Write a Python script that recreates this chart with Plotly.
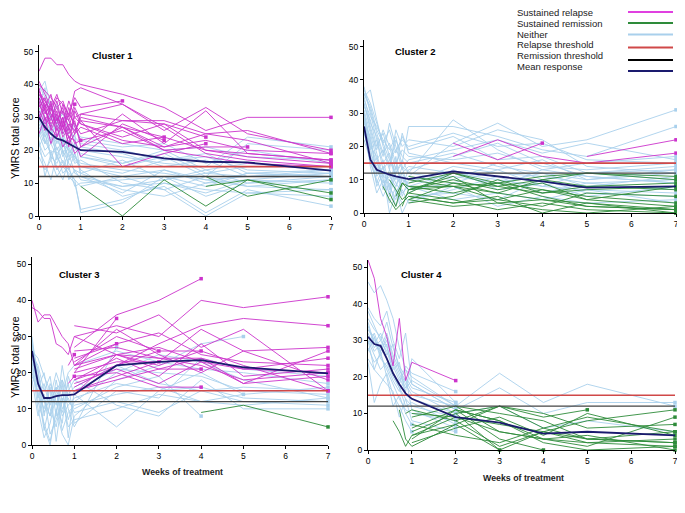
import plotly.graph_objects as go

N = None
# time grid: daily in week 0-1, then weekly
WEEKS = [0, 1/7, 2/7, 3/7, 4/7, 5/7, 6/7, 1, 2, 3, 4, 5, 7]
X_TICKS = [0, 1, 2, 3, 4, 5, 6, 7]
Y_TICKS = [0, 10, 20, 30, 40, 50]
RELAPSE_THRESHOLD = 15
REMISSION_THRESHOLD = 12

CLUSTER_NAMES = ["Cluster 1", "Cluster 2", "Cluster 3", "Cluster 4"]
LEGEND_LABELS = ["Sustained relapse", "Sustained remission", "Neither",
                 "Relapse threshold", "Remission threshold", "Mean response"]

# ---------------- Cluster 1 ----------------
c1_mean = [30, 27, 25, 23.5, 23, 22, 21, 20, 19.5, 17.5, 16.5, 16.3, 13.8]
c1_relapse = [
    [44, 48, 48, 46, 46, 43, 41, 40, 37, 33, 26, 30, 30],
    [40, 38, 36, 33, 35, 30, 38, 39, 34, 26, 33, 25, 20],
    [38, 35, 32, 36, 34, 31, 36, 33, 35, N, N, N, N],
    [37, 34, 30, 33, 28, 35, 30, 31, 29, 28, 24, N, N],
    [36, 31, 34, 29, 32, 27, 33, 29, 27, 21, 25, 26, 19],
    [41, 37, 33, 37, 31, 29, 34, N, N, N, N, N, N],
    [39, 32, 28, 31, 26, 33, 27, 23, 26, 20, 18, 16, 15],
    [35, 29, 33, 27, 30, 25, 29, 21, 31, 22, 32, 19, 17],
    [33, 36, 31, 28, 34, 29, 25, 27, 22, 24, N, N, N],
    [34, 30, 27, 32, 25, 28, 26, 29, 15, 19, 22, N, N],
    [32, 28, 30, 26, 29, 24, 23, 18, 28, 23, N, N, N],
    [30, 34, 26, 30, 24, 27, 22, 23, N, N, N, N, N],
    [38, 33, 37, 30, 27, 31, 28, 25, 29, 29, 25, 23, 16],
    [36, 32, 29, 35, 27, 24, 26, 30, 27, 20, 21, 21, N],
    [29, 33, 27, 24, 28, 22, 25, 31, 34, 27, 19, 17, 15],
    [37, 35, 31, 29, 33, 26, 30, 28, 24, 28, 20, 18, 16],
    [25, 30, 22, 27, 21, 24, 19, 21, 27, 24, 20, 19, 17],
    [31, 26, 35, 24, 30, 21, 32, 28, 23, 21, 23, 20, 19],
]
c1_remission = [
    [N, N, N, N, N, N, N, 9, 0, 11, 3, 11, 7],
    [N, N, N, N, N, N, N, N, N, N, 12, 6, 11],
    [N, N, N, N, N, N, N, N, N, N, 9, 11, 5],
]
c1_neither = [
    [35, 30, 25, 28, 22, 20, 18, 15, 12, 14, 10, 13, 12],
    [33, 28, 31, 24, 26, 19, 22, 20, 18, 16, 15, 24, 21],
    [30, 26, 22, 25, 18, 21, 16, 17, 10, 8, 12, 9, 8],
    [28, 24, 27, 20, 23, 17, 19, 14, 6, 9, 1, 8, 3],
    [38, 41, 33, 29, 31, 26, 24, 22, 20, 17, 18, 14, 13],
    [25, 20, 22, 18, 15, 19, 13, 12, 9, 11, 14, 10, 11],
    [40, 36, 30, 34, 27, 25, 28, 23, 21, 22, 16, 20, 16],
    [22, 18, 20, 14, 17, 12, 10, 2, 5, 10, 8, 7, 6],
    [27, 23, 19, 21, 16, 14, 11, 1, 4, 12, 9, 13, 14],
    [32, 29, 26, 22, 24, 20, 18, 16, 14, 13, 11, 12, 13],
    [20, 16, 11, 19, 13, 15, 9, 10, 11, 12, 6, 10, 12],
    [36, 32, 28, 26, 30, 24, 21, 19, 16, 19, 13, 15, 15],
    [24, 30, 17, 23, 20, 16, 14, 13, 8, 6, 10, 11, 10],
    [29, 25, 33, 27, 22, 18, 20, 21, 19, 15, 17, 12, 14],
    [34, 39, 29, 31, 25, 27, 23, 18, 15, 18, 12, 22, 20],
    [18, 14, 17, 12, 15, 13, 11, 9, 12, 8, 0, 7, 8],
    [26, 22, 24, 19, 21, 23, 17, 15, 13, 17, 19, 13, 12],
    [31, 27, 23, 30, 19, 22, 25, 12, 7, 14, 11, 9, 11],
    [37, 33, 35, 28, 32, 29, 26, 24, 22, 20, 21, 18, 17],
    [21, 25, 18, 16, 20, 11, 14, 11, 9, 10, 7, 11, 13],
    [23, 12, 19, 15, 11, 17, 22, 18, 16, 20, 14, 16, 14],
    [32, 22, 28, 17, 24, 14, 19, 13, 17, 11, 13, 12, 12],
]

# ---------------- Cluster 2 ----------------
c2_mean = [26, 16, 13, 12.2, 11.5, 11, 10.5, 10.2, 12.5, 11, 9.5, 7.6, 8]
c2_relapse = [
    [N, N, N, N, N, N, N, N, 21, 16, 21, N, N],
    [N, N, N, N, N, N, N, N, 17, 22, 17, 15, 18],
    [N, N, N, N, N, N, N, N, N, N, N, 17, 22],
]
c2_remission = [
    [N, N, N, N, N, N, N, 11, 9, 8, 10, 8, 9],
    [N, N, N, N, N, N, N, 10, 8, 4, 7, 5, 3],
    [N, N, N, N, N, N, N, 7, 10, 7, 9, 4, 8],
    [N, N, N, N, N, N, N, 5, 3, 5, 0, 3, 0],
    [N, N, N, N, N, N, N, 4, 9, 6, 10, 12, 11],
    [N, N, N, N, N, N, N, 3, 5, 10, 6, 8, 7],
    [N, N, N, N, 6, 2, 9, 8, 8, 6, 4, 2, 1],
    [N, N, N, N, 10, 7, 4, 6, 12, 9, 11, 12, 10],
    [N, N, N, N, N, 5, 9, 7, 8, 9, 7, 4, 2],
    [N, N, N, N, N, N, N, 6, 4, 1, 3, 1, 0],
    [N, N, N, N, N, N, N, 9, 12, 8, 6, 7, 8],
    [N, N, N, 8, 4, 1, 3, 5, 3, 4, 2, 6, 5],
    [N, N, N, N, N, N, N, 8, 6, 9, 5, 2, 1],
    [N, N, N, N, N, N, N, 4, 2, 3, 1, 0, 2],
    [N, N, N, N, N, N, 2, 7, 11, 3, 4, 3, 1],
]
c2_neither = [
    [38, 30, 22, 15, 18, 10, 12, 8, 12, 10, 8, 7, 6],
    [35, 37, 28, 20, 14, 22, 17, 15, 18, 14, 12, 10, 12],
    [33, 25, 18, 10, 6, 14, 9, 11, 21, 27, 20, 22, 31],
    [30, 22, 12, 16, 8, 4, 11, 7, 9, 13, 8, 12, 13],
    [32, 28, 20, 24, 17, 12, 15, 26, 26, 23, 19, 17, 26],
    [28, 18, 14, 8, 12, 6, 3, 5, 6, 4, 10, 6, 5],
    [36, 31, 24, 18, 21, 15, 19, 17, 16, 18, 14, 13, 15],
    [26, 20, 8, 12, 0, 6, 10, 9, 14, 12, 11, 9, 10],
    [34, 29, 26, 22, 19, 23, 14, 12, 28, 19, 13, 15, 17],
    [31, 24, 16, 19, 13, 25, 20, 22, 20, 25, 22, 14, 12],
    [25, 15, 10, 5, 9, 2, 7, 3, 8, 2, 5, 3, 4],
    [37, 33, 27, 21, 25, 18, 23, 19, 23, 16, 17, 12, 14],
    [29, 19, 22, 13, 16, 11, 8, 13, 17, 21, 15, 11, 9],
    [27, 23, 11, 14, 7, 17, 5, 10, 11, 9, 12, 8, 11],
    [24, 17, 13, 9, 11, 8, 14, 6, 13, 7, 9, 5, 8],
    [33, 26, 19, 25, 20, 13, 24, 18, 15, 13, 16, 10, 13],
    [30, 21, 15, 11, 10, 7, 0, 4, 7, 11, 6, 9, 7],
    [22, 16, 9, 14, 5, 12, 16, 12, 10, 15, 10, 12, 10],
    [35, 27, 23, 17, 27, 20, 13, 16, 19, 22, 18, 21, 16],
    [28, 20, 17, 7, 13, 9, 6, 8, 4, 6, 4, 7, 3],
    [36, 32, 25, 21, 16, 19, 22, 20, 24, 20, 21, 16, 15],
    [26, 14, 6, 10, 3, 8, 12, 14, 12, 8, 13, 11, 9],
]

# ---------------- Cluster 3 ----------------
c3_mean = [26, 17, 13, 13, 13.5, 13.8, 13.8, 14, 22, 23, 23.5, 21.5, 19.8]
c3_relapse = [
    [N, N, N, N, N, N, N, 27, 36, 40, 46, N, N],
    [N, N, N, N, N, N, N, 30, 33, 30, 40, 38, 41],
    [N, N, N, N, N, N, N, 33, 31, 36, 27, 32, 15],
    [N, N, N, N, N, N, 22, 25, N, N, N, N, N],
    [N, N, N, N, N, N, 17, 19, N, N, N, N, N],
    [N, N, N, N, N, N, N, 20, 35, N, N, N, N],
    [N, N, N, N, N, N, N, 22, 28, N, N, N, N],
    [N, N, N, N, N, N, N, 18, 22, 28, 33, 35, 33],
    [N, N, N, N, N, N, N, 15, 19, 23, 32, 26, 27],
    [N, N, N, N, N, N, N, 14, 25, 27, 23, 17, 26],
    [N, N, N, N, N, N, N, 23, 30, 26, 26, N, N],
    [N, N, N, N, N, N, N, 16, 22, 26, N, N, N],
    [N, N, N, N, N, N, N, 20, 23, 23, N, N, N],
    [N, N, N, N, N, N, N, 17, 21, 17, 23, 21, 24],
    [N, N, N, N, N, N, N, 21, 25, 21, 21, N, N],
    [N, N, N, N, N, N, N, 19, 20, 16, 16, N, N],
    [N, N, N, N, N, N, N, 24, 28, 31, 25, 23, 22],
    [N, N, N, N, N, N, N, 18, 24, 19, 28, 19, 21],
    [N, N, N, N, N, N, N, 26, 27, 24, 22, 18, 20],
    [N, N, N, N, N, N, N, 15, 18, 21, 24, 17, 19],
    [N, N, N, N, N, N, N, 22, 32, 25, 20, 26, 18],
    [40, 34, 36, 36, 33, 30, 28, 22, 25, 24, 24, 21, 20],
    [38, 37, 35, 35, 28, 27, 25, 30, 25, 22, 26, 22, 15],
]
c3_remission = [
    [N, N, N, N, N, N, N, N, N, N, 9, 11, 5],
]
c3_neither = [
    [28, 20, 12, 8, 15, 18, 10, 5, 27, N, N, N, N],
    [30, 18, 5, 0, 10, 3, 0, 8, 18, 22, 28, 30, N],
    [25, 22, 15, 19, 8, 22, 12, 10, 16, 19, 8, N, N],
    [20, 14, 10, 17, 12, 6, 19, 14, 5, 15, 20, 14, N],
    [27, 17, 9, 13, 20, 15, 7, 12, 20, 25, 23, 18, 13],
    [22, 10, 2, 6, 14, 9, 15, 18, 11, 8, 18, 10, 10],
    [26, 24, 19, 15, 11, 18, 14, 16, 22, 17, 15, 16, 15],
    [18, 8, 14, 3, 7, 12, 17, 6, 15, 13, 24, 21, 19],
    [24, 16, 20, 11, 16, 4, 9, 11, 14, 16, 12, 14, 16],
    [29, 12, 6, 1, 9, 17, 2, 15, 21, 20, 19, 15, 14],
    [21, 19, 13, 8, 18, 10, 13, 9, 12, 9, 15, 12, 11],
    [23, 13, 17, 10, 5, 14, 20, 22, 26, 23, 21, 20, 17],
    [19, 15, 4, 12, 16, 8, 11, 13, 17, 15, 16, 13, 12],
    [26, 21, 8, 16, 1, 13, 5, 7, 10, 14, 12, 11, 13],
]

# ---------------- Cluster 4 ----------------
c4_mean = [31, 29, 28.5, 25, 21, 18, 15.5, 14, 9, 7.5, 4.5, 5, 4]
c4_relapse = [
    [52, 47, 36, 31, 23, 36, 19, 24, 19, N, N, N, N],
]
c4_remission = [
    [N, N, N, N, 8, 5, 1, 4, 9, 5, 3, 2, 1],
    [N, N, N, N, N, 11, 3, 1, 7, 0, N, N, N],
    [N, N, N, N, N, N, 10, 11, 8, 12, 9, 11, N],
    [N, N, N, N, N, N, N, 9, 12, 10, 8, 3, 5],
    [N, N, N, N, N, N, N, 6, 11, 3, 0, N, N],
    [N, N, N, N, N, N, N, 4, 7, 12, 10, 6, 7],
    [N, N, N, N, N, N, N, 3, 11, 8, 3, 1, 9],
    [N, N, N, N, N, N, N, 5, 10, 0, 5, 8, 11],
    [N, N, N, N, N, N, N, 10, 9, 7, 5, 2, 3],
    [N, N, N, N, N, N, N, 2, 6, 9, 4, 10, 4],
    [N, N, N, N, N, N, N, 7, 4, 2, 6, 3, 2],
    [N, N, N, N, N, N, N, N, 11, 8, 2, 0, 1],
    [N, N, N, N, N, N, N, N, 10, 12, 6, 9, 5],
    [N, N, N, N, N, N, N, N, 12, 5, 3, 4, 0],
    [N, N, N, N, N, N, N, N, 8, 1, 5, 3, 2],
]
c4_neither = [
    [46, 43, 45, 41, 36, 28, 22, 20, 12, 21, 13, 18, 12],
    [39, 36, 34, 38, 30, 25, 32, 18, 11, 17, 10, 13, 13],
    [33, 30, 28, 32, 26, 22, 19, 16, 10, N, N, N, N],
    [31, 27, 29, 25, 21, 17, 14, 12, 9, N, N, N, N],
    [29, 32, 27, 30, 24, 20, 16, 25, 13, N, N, N, N],
    [36, 33, 31, 26, 29, 22, 18, 15, 12, N, N, N, N],
    [28, 24, 26, 22, 18, 14, 11, 10, 8, N, N, N, N],
    [34, 29, 32, 28, 23, 19, 22, 18, 11, N, N, N, N],
    [30, 26, 22, 24, 20, 17, 12, 13, 7, N, N, N, N],
    [27, 31, 25, 23, 19, 16, 20, 11, 6, N, N, N, N],
    [32, 28, 30, 27, 22, 24, 15, 14, 10, 12, 6, 8, 5],
    [25, 22, 20, 18, 16, 9, 14, 8, 5, N, N, N, N],
    [35, 29, 27, 31, 25, 21, 17, 19, 12, N, N, N, N],
    [24, 13, 18, 21, 15, 12, 8, 5, N, N, N, N, N],
    [38, 34, 30, 35, 28, 23, 20, 17, 13, N, N, N, N],
    [30, 22, 27, 20, 12, 15, 10, 7, N, N, N, N, N],
    [33, 31, 26, 29, 21, 18, 23, 21, 16, N, N, N, N],
]

CLUSTERS = [
    (c1_neither, c1_remission, c1_relapse, c1_mean),
    (c2_neither, c2_remission, c2_relapse, c2_mean),
    (c3_neither, c3_remission, c3_relapse, c3_mean),
    (c4_neither, c4_remission, c4_relapse, c4_mean),
]

# ---------------- styling ----------------
COL_RELAPSE = "#CC33CC"
COL_REMISSION = "#2E8B3A"
COL_NEITHER = "#A9D0EC"
COL_REL_T = "#D04848"
COL_REM_T = "#444444"
COL_MEAN = "#1A1A6E"
LEG_COLORS = ["#E040E0", "#2E8B3A", "#A9D0EC", "#D04848", "#000000", "#1A1A6E"]

PAGE_W, PAGE_H = 685, 513
OFF = 8  # default page body margin (figure starts at page x=8, y=8)
W, H = PAGE_W - OFF, PAGE_H - OFF


def px_x(px):
    return (px - OFF) / W


def px_y(py):
    return 1 - (py - OFF) / H


# panel pixel boxes in page coords: left, right, top, bottom
PANELS = [(39, 331, 45, 216), (364, 676, 40, 213), (32, 328, 257, 445), (368, 675, 260, 450)]


def build(lines):
    xs, ys, mx, my = [], [], [], []
    for ln in lines:
        pts = [(WEEKS[i], v) for i, v in enumerate(ln) if v is not None]
        for x, y in pts:
            xs.append(x)
            ys.append(y)
        xs.append(None)
        ys.append(None)
        if pts and pts[-1][0] >= 0.8:
            mx.append(pts[-1][0])
            my.append(pts[-1][1])
    return xs, ys, mx, my


FONT = "Liberation Sans, Arial"
fig = go.Figure()
layout_axes = {}
for k, (neither, remis, relapse, mean) in enumerate(CLUSTERS):
    n = k + 1
    xa = "x" if n == 1 else f"x{n}"
    ya = "y" if n == 1 else f"y{n}"
    for lines, col, w in [(neither, COL_NEITHER, 0.9), (remis, COL_REMISSION, 0.9), (relapse, COL_RELAPSE, 0.9)]:
        xs, ys, mx, my = build(lines)
        fig.add_trace(go.Scatter(x=xs, y=ys, mode="lines", line=dict(color=col, width=w),
                                 xaxis=xa, yaxis=ya, showlegend=False, hoverinfo="skip"))
        fig.add_trace(go.Scatter(x=mx, y=my, mode="markers",
                                 marker=dict(color=col, size=3.5, symbol="square"),
                                 xaxis=xa, yaxis=ya, showlegend=False, hoverinfo="skip",
                                 cliponaxis=False))
    fig.add_trace(go.Scatter(x=[0, 7], y=[RELAPSE_THRESHOLD] * 2, mode="lines",
                             line=dict(color=COL_REL_T, width=1.6), xaxis=xa, yaxis=ya,
                             showlegend=False, hoverinfo="skip"))
    fig.add_trace(go.Scatter(x=[0, 7], y=[REMISSION_THRESHOLD] * 2, mode="lines",
                             line=dict(color=COL_REM_T, width=1.4), xaxis=xa, yaxis=ya,
                             showlegend=False, hoverinfo="skip"))
    fig.add_trace(go.Scatter(x=WEEKS, y=mean, mode="lines",
                             line=dict(color=COL_MEAN, width=1.8), xaxis=xa, yaxis=ya,
                             showlegend=False, hoverinfo="skip"))

    l, r, t, b = PANELS[k]
    axis_common = dict(showgrid=False, zeroline=False, showline=True, linecolor="black",
                       linewidth=1, ticks="outside", ticklen=3, tickcolor="black",
                       tickfont=dict(family=FONT, size=8.5, color="black"),
                       automargin=False)
    layout_axes["xaxis" if n == 1 else f"xaxis{n}"] = dict(
        axis_common, domain=[px_x(l), px_x(r)], range=[0, 7], tickvals=X_TICKS,
        anchor=ya, tickprefix="<b>", ticksuffix="</b>")
    layout_axes["yaxis" if n == 1 else f"yaxis{n}"] = dict(
        axis_common, domain=[px_y(b), px_y(t)], range=[0, 52], tickvals=Y_TICKS,
        anchor=xa, tickprefix="<b>", ticksuffix="</b>")

annotations = []
# cluster titles
for (px, py), name in zip([(90, 56), (393, 52), (57, 274), (399, 274)], CLUSTER_NAMES):
    annotations.append(dict(x=px_x(px), y=px_y(py), xref="paper", yref="paper", text=f"<b>{name}</b>",
                            showarrow=False, xanchor="left", yanchor="middle",
                            font=dict(family=FONT, size=9.5, color="black")))
# y titles
for py in [138, 357]:
    annotations.append(dict(x=px_x(15), y=px_y(py), xref="paper", yref="paper",
                            text="YMRS total score", textangle=-90, showarrow=False,
                            xanchor="center", yanchor="middle",
                            font=dict(family=FONT, size=10.5, color="black")))
# x titles
for px, py in [(182, 472), (523, 478)]:
    annotations.append(dict(x=px_x(px), y=px_y(py), xref="paper", yref="paper",
                            text="<b>Weeks of treatment</b>", showarrow=False,
                            xanchor="center", yanchor="middle",
                            font=dict(family=FONT, size=8.8, color="#222222")))
# legend
shapes = []
LEG_TEXT_Y = [12.8, 23.45, 34.1, 44.75, 55.4, 66.05]
LEG_LINE_Y = [12, 23, 34.5, 47.5, 60, 71]
for lab, col, ty, ly in zip(LEGEND_LABELS, LEG_COLORS, LEG_TEXT_Y, LEG_LINE_Y):
    annotations.append(dict(x=px_x(515), y=px_y(ty), xref="paper", yref="paper", text=lab,
                            showarrow=False, xanchor="left", yanchor="middle",
                            font=dict(family=FONT, size=9.5, color="#222222")))
    shapes.append(dict(type="line", xref="paper", yref="paper", x0=px_x(628), x1=px_x(673),
                       y0=px_y(ly), y1=px_y(ly), line=dict(color=col, width=2.2)))

fig.update_layout(width=W, height=H, margin=dict(l=0, r=0, t=0, b=0),
                  paper_bgcolor="white", plot_bgcolor="white",
                  annotations=annotations, shapes=shapes, **layout_axes)
fig.write_html("out.html")
